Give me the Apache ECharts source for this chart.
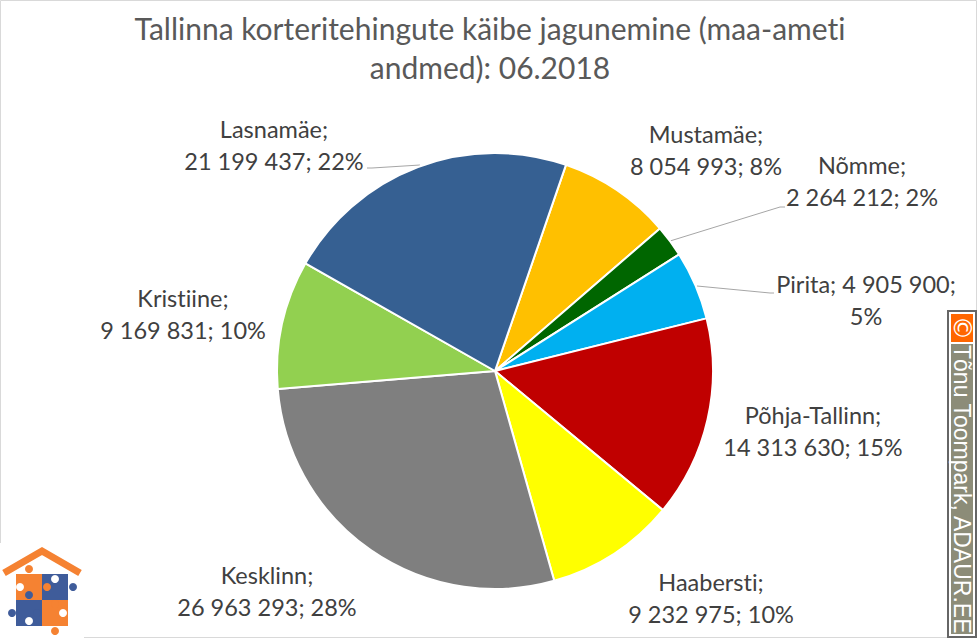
<!DOCTYPE html>
<html>
<head>
<meta charset="utf-8">
<style>html,body{margin:0;padding:0;background:#fff}#main{width:977px;height:638px}text{font-variant-ligatures:none}</style>
<script src="https://cdn.jsdelivr.net/npm/echarts@6/dist/echarts.min.js"></script>
</head>
<body>
<div id="main"></div>
<script>
const titleText = 'Tallinna korteritehingute käibe jagunemine (maa-ameti\nandmed): 06.2018';
const districts = ['Mustamäe', 'Nõmme', 'Pirita', 'Põhja-Tallinn', 'Haabersti', 'Kesklinn', 'Kristiine', 'Lasnamäe'];
const amounts = [8054993, 2264212, 4905900, 14313630, 9232975, 26963293, 9169831, 21199437];
const amountLabels = ['8 054 993', '2 264 212', '4 905 900', '14 313 630', '9 232 975', '26 963 293', '9 169 831', '21 199 437'];
const percents = ['8%', '2%', '5%', '15%', '10%', '28%', '10%', '22%'];
const colors = ['#FFC000', '#006600', '#00B0F0', '#C00000', '#FFFF00', '#7F7F7F', '#92D050', '#366092'];
// label centre x / top y, by hand from the picture
const labelPos = [[706, 118], [862, 149], [866, 268], [813, 399], [711, 566], [267, 559], [183, 282], [274, 113]];
const linePoints = {
	1: [[670, 241], [780, 207], [785, 207]],
	2: [[697, 286], [770, 293], [774, 293]],
	7: [[420, 165], [372, 168], [367, 168]]
};

const labelText = i => {
	if(i === 2) return `${districts[i]}; ${amountLabels[i]};\n${percents[i]}`;
	return `${districts[i]};\n${amountLabels[i]}; ${percents[i]}`;
};

const pieces = [];
// frame
pieces.push({type: 'rect', shape: {x: 0.5, y: 0.5, width: 976, height: 637}, style: {fill: null, stroke: '#D9D9D9', lineWidth: 1}});
// logo
const orange = '#F58232', blue = '#3F5C9A';
pieces.push({type: 'rect', shape: {x: 0, y: 543, width: 84, height: 95}, style: {fill: '#fff'}});
pieces.push({type: 'polyline', shape: {points: [[4, 573], [42, 551], [80, 573]]}, style: {stroke: orange, lineWidth: 7, fill: null}});
[[16, 574, orange], [42, 574, blue], [16, 600, blue], [42, 600, orange]].forEach(s => {
	pieces.push({type: 'rect', shape: {x: s[0], y: s[1], width: 26, height: 26}, style: {fill: s[2]}});
});
[[29, 569, orange], [47, 587, orange], [73, 587, blue], [29, 595, blue], [12, 613, blue], [37, 613, blue], [55, 604, orange], [55, 631, orange],
 [20, 587, '#fff'], [55, 579, '#fff'], [63, 613, '#fff'], [29, 621, '#fff']].forEach(c => {
	pieces.push({type: 'circle', shape: {cx: c[0], cy: c[1], r: 4}, style: {fill: c[2]}});
});
// watermark
pieces.push({type: 'rect', shape: {x: 948, y: 311, width: 28, height: 326}, style: {fill: '#fff', stroke: '#666', lineWidth: 2}});
pieces.push({type: 'rect', shape: {x: 951, y: 314, width: 22, height: 28}, style: {fill: '#FF6600'}});
pieces.push({type: 'rect', shape: {x: 951, y: 344, width: 22, height: 290}, style: {fill: '#8C8C78'}});
pieces.push({type: 'text', x: 962, y: 328, rotation: -Math.PI / 2, style: {text: '©', fill: '#fff', font: '24px "DejaVu Sans"', align: 'center', verticalAlign: 'middle'}});
pieces.push({type: 'text', x: 962, y: 345, rotation: -Math.PI / 2, style: {text: 'Tõnu Toompark, ADAUR.EE', fill: '#fff', font: '23px "Liberation Sans"', align: 'left', verticalAlign: 'middle'}});

const chart = echarts.init(document.getElementById('main'), null, {renderer: 'svg'});
chart.setOption({
	animation: false,
	backgroundColor: '#fff',
	title: {
		text: titleText,
		left: 485,
		top: 3,
		textAlign: 'center',
		textStyle: {color: '#595959', fontFamily: 'Lato', fontSize: 30, fontWeight: 'normal', lineHeight: 39}
	},
	graphic: {elements: pieces},
	series: [{
		type: 'pie',
		center: [495, 371],
		radius: [0, 218],
		startAngle: 71,
		itemStyle: {borderColor: '#fff', borderWidth: 2},
		data: districts.map((name, i) => ({
			name: name,
			value: amounts[i],
			itemStyle: {color: colors[i]},
			label: {formatter: labelText(i)},
			labelLine: {show: !!linePoints[i]}
		})),
		label: {
			show: true,
			color: '#404040',
			fontFamily: 'Lato',
			fontSize: 23.5,
			lineHeight: 32,
			align: 'center'
		},
		labelLine: {lineStyle: {color: '#A6A6A6', width: 1}, length: 10, length2: 10},
		labelLayout: params => ({
			x: labelPos[params.dataIndex][0],
			y: labelPos[params.dataIndex][1],
			align: 'center',
			verticalAlign: 'top',
			labelLinePoints: linePoints[params.dataIndex]
		})
	}]
});
</script>
</body>
</html>
